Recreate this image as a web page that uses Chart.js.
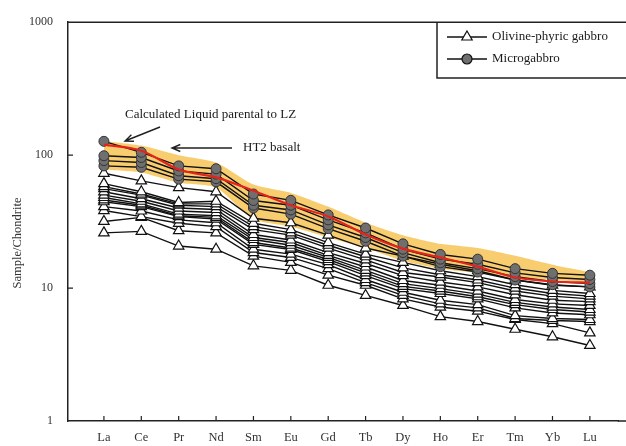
<!DOCTYPE html>
<html>
<head>
<meta charset="utf-8">
<script src="https://cdn.jsdelivr.net/npm/chart.js@4/dist/chart.umd.min.js"></script>
<style>
  html, body { margin: 0; padding: 0; background: #fff; }
  #wrap { width: 626px; height: 446px; }
</style>
</head>
<body>
<div id="wrap"><canvas id="reeChart" width="626" height="446"></canvas></div>
<script>
// REE elements, x axis
const elements = ['La', 'Ce', 'Pr', 'Nd', 'Sm', 'Eu', 'Gd', 'Tb', 'Dy', 'Ho', 'Er', 'Tm', 'Yb', 'Lu'];
const yTicks = [1, 10, 100, 1000];

// HT2 basalt (red line)
const ht2Basalt = [120, 108, 78, 68, 54, 42, 34.6, 25.3, 19.8, 17, 14.5, 12, 11.2, 11.0];

// calculated liquid parental to LZ (yellow band)
const liquidUpper = [128, 118, 100, 88, 60, 52, 41, 31, 25, 21.5, 20, 17.5, 15, 13.2];
const liquidLower = [78, 74, 62, 57, 33, 29, 24, 20, 16, 14, 13, 12, 11.5, 11];

// Microgabbro samples
const micro1 = [127, 105, 83, 79, 51, 45.7, 35.5, 28.3, 21.5, 17.9, 16.5, 14, 12.9, 12.5];
const micro2 = [99, 96, 76, 72, 45.6, 42, 32.6, 26, 19.6, 16.5, 15.1, 13, 12, 11.6];
const micro3 = [91, 88, 70, 66.5, 42, 38.7, 29.9, 24, 18.5, 15.5, 14, 12.2, 11.2, 10.8];
const micro4 = [83, 81, 66, 63, 40, 36, 28, 22.5, 17.4, 14.5, 13.2, 11.5, 10.6, 10.2];
const microgabbro = [micro1, micro2, micro3, micro4];

// Olivine-phyric gabbro samples
const olg1 = [73, 64, 57, 53, 33.5, 31, 25, 20, 17.4, 15.1, 13.5, 11.5, 10.5, 10.2];
const olg2 = [61, 53, 44, 45, 30.7, 27.5, 22, 18, 15.6, 13.5, 12.2, 10.6, 9.6, 9.1];
const olg3 = [58, 51, 43, 43, 29, 26, 21, 17.2, 14.2, 12.6, 11.5, 10, 9.1, 8.7];
const olg4 = [56, 50, 42, 41, 27.5, 25, 20, 16.3, 13.1, 12.1, 11, 9.5, 8.7, 8.3];
const olg5 = [53, 47, 40, 39, 25.3, 23, 18.5, 15.3, 12.4, 11.1, 10.2, 8.9, 8.1, 7.9];
const olg6 = [50, 45, 38, 37, 24, 22, 17.6, 14.4, 11.4, 10.5, 9.5, 8.2, 7.6, 7.4];
const olg7 = [48, 43, 36, 35, 23.2, 21, 17, 13.6, 10.8, 9.9, 9, 7.8, 7.2, 6.9];
const olg8 = [46, 42, 35, 34, 22, 20, 16.4, 13, 10.3, 9.5, 8.6, 7.5, 6.9, 6.6];
const olg9 = [44.6, 41, 34.5, 33, 21.3, 19.5, 15.8, 12.4, 9.9, 9.1, 8.3, 7.1, 6.5, 6.3];
const olg10 = [41, 38, 32.6, 31, 19.6, 18, 15, 11.6, 9.3, 8.1, 7.5, 6.2, 5.9, 5.8];
const olg11 = [38.3, 34.5, 30.7, 29, 18.5, 17, 14, 11, 8.8, 7.6, 7.1, 5.9, 5.7, 5.6];
const olg12 = [31.7, 34, 27, 26, 17.4, 15.6, 12.5, 10.5, 8.3, 7.2, 6.7, 5.8, 5.4, 4.6];
const olg13 = [26, 26.7, 20.7, 19.6, 14.7, 13.6, 10.5, 8.8, 7.4, 6.1, 5.6, 4.9, 4.3, 3.7];
const olivineGabbro = [olg1, olg2, olg3, olg4, olg5, olg6, olg7, olg8, olg9, olg10, olg11, olg12, olg13];

const SERIF = "'Liberation Serif', 'DejaVu Serif', serif";
const toPoints = vals => vals.map((v, i) => ({ x: i + 1, y: v }));

const datasets = [];
// 0,1: band
datasets.push({
  data: toPoints(liquidUpper), borderWidth: 0, pointRadius: 0, tension: 0.2,
  backgroundColor: 'rgba(247,200,95,0.9)', fill: 1, order: 4
});
datasets.push({
  data: toPoints(liquidLower), borderWidth: 0, pointRadius: 0, tension: 0.2,
  backgroundColor: 'rgba(247,200,95,0.9)', fill: false, order: 4
});
olivineGabbro.forEach(vals => datasets.push({
  data: toPoints(vals), borderColor: '#111', borderWidth: 1.4,
  pointStyle: 'triangle', pointRadius: 6, pointBorderWidth: 1.2,
  pointBackgroundColor: '#fff', pointBorderColor: '#111', fill: false, order: 3
}));
microgabbro.forEach(vals => datasets.push({
  data: toPoints(vals), borderColor: '#111', borderWidth: 1.4,
  pointStyle: 'circle', pointRadius: 5, pointBorderWidth: 1,
  pointBackgroundColor: '#6f6f6f', pointBorderColor: '#333', fill: false, order: 2
}));
datasets.push({
  data: toPoints(ht2Basalt), borderColor: '#e5231b', borderWidth: 2.2,
  pointRadius: 0, tension: 0.3, fill: false, order: 1
});

function arrow(ctx, x1, y1, x2, y2) {
  const a = Math.atan2(y2 - y1, x2 - x1);
  ctx.beginPath();
  ctx.moveTo(x1, y1);
  ctx.lineTo(x2, y2);
  ctx.moveTo(x2 - 9 * Math.cos(a - 0.4), y2 - 9 * Math.sin(a - 0.4));
  ctx.lineTo(x2, y2);
  ctx.lineTo(x2 - 9 * Math.cos(a + 0.4), y2 - 9 * Math.sin(a + 0.4));
  ctx.stroke();
}

const decorations = {
  id: 'decorations',
  afterDraw(chart) {
    const ctx = chart.ctx;
    const area = chart.chartArea;
    const xs = chart.scales.x, ys = chart.scales.y;
    ctx.save();
    ctx.strokeStyle = '#222';
    ctx.lineWidth = 1.5;
    // top frame, and bottom axis carried to the edge
    ctx.beginPath();
    ctx.moveTo(area.left, area.top);
    ctx.lineTo(chart.width, area.top);
    ctx.moveTo(area.right - 1, area.bottom);
    ctx.lineTo(chart.width, area.bottom);
    ctx.stroke();
    // inside ticks
    ctx.lineWidth = 1.2;
    ctx.beginPath();
    elements.forEach((e, i) => {
      const px = xs.getPixelForValue(i + 1);
      ctx.moveTo(px, area.bottom);
      ctx.lineTo(px, area.bottom - 5);
    });
    [10, 100].forEach(v => {
      const py = ys.getPixelForValue(v);
      ctx.moveTo(area.left, py);
      ctx.lineTo(area.left + 5, py);
    });
    ctx.stroke();

    // y title
    ctx.fillStyle = '#333';
    ctx.font = '12.5px ' + SERIF;
    ctx.textAlign = 'center';
    ctx.textBaseline = 'middle';
    ctx.translate(18, 243);
    ctx.rotate(-Math.PI / 2);
    ctx.fillText('Sample/Chondrite', 0, 0);
    ctx.setTransform(1, 0, 0, 1, 0, 0);

    // annotations
    ctx.fillStyle = '#1a1a1a';
    ctx.font = '13px ' + SERIF;
    ctx.textAlign = 'left';
    ctx.fillText('Calculated Liquid parental to LZ', 125, 115);
    ctx.fillText('HT2 basalt', 243, 148);
    ctx.strokeStyle = '#222';
    ctx.lineWidth = 1.4;
    arrow(ctx, 160, 127, 125, 141);
    arrow(ctx, 232, 148, 172, 148);

    // legend box
    ctx.lineWidth = 1.5;
    ctx.strokeStyle = '#222';
    ctx.beginPath();
    ctx.moveTo(437, area.top);
    ctx.lineTo(437, 78);
    ctx.lineTo(chart.width, 78);
    ctx.stroke();
    const rows = [
      { label: 'Olivine-phyric gabbro', y: 37, tri: true },
      { label: 'Microgabbro', y: 59, tri: false }
    ];
    rows.forEach(r => {
      ctx.strokeStyle = '#111';
      ctx.lineWidth = 1.4;
      ctx.beginPath();
      ctx.moveTo(447, r.y);
      ctx.lineTo(487, r.y);
      ctx.stroke();
      ctx.beginPath();
      if (r.tri) {
        const rad = 6;
        ctx.moveTo(467, r.y - rad);
        ctx.lineTo(467 + rad * Math.sin(2 * Math.PI / 3), r.y + rad / 2);
        ctx.lineTo(467 - rad * Math.sin(2 * Math.PI / 3), r.y + rad / 2);
        ctx.closePath();
        ctx.fillStyle = '#fff';
      } else {
        ctx.arc(467, r.y, 5, 0, Math.PI * 2);
        ctx.fillStyle = '#6f6f6f';
      }
      ctx.fill();
      ctx.lineWidth = 1.2;
      ctx.stroke();
      ctx.fillStyle = '#1a1a1a';
      ctx.font = '13px ' + SERIF;
      ctx.textAlign = 'left';
      ctx.textBaseline = 'middle';
      ctx.fillText(r.label, 492, r.y);
    });
    ctx.restore();
  }
};

new Chart(document.getElementById('reeChart').getContext('2d'), {
  type: 'line',
  data: { datasets: datasets },
  options: {
    responsive: false,
    animation: false,
    devicePixelRatio: 1,
    layout: { padding: { top: 16, right: 0, left: 0, bottom: 0 } },
    plugins: { legend: { display: false }, tooltip: { enabled: false } },
    scales: {
      x: {
        type: 'linear',
        min: 0.039,
        max: 14.774,
        afterFit: s => { s.height = 25; },
        afterBuildTicks: s => { s.ticks = elements.map((e, i) => ({ value: i + 1 })); },
        grid: { display: false, drawTicks: false },
        border: { display: true, color: '#222', width: 1.5 },
        ticks: {
          padding: 9,
          color: '#333',
          font: { family: SERIF, size: 12.5 },
          callback: v => elements[v - 1] || ''
        }
      },
      y: {
        type: 'logarithmic',
        min: 1,
        max: 1000,
        afterFit: s => { s.width = 68; },
        afterBuildTicks: s => { s.ticks = yTicks.map(v => ({ value: v })); },
        grid: { display: false, drawTicks: false },
        border: { display: true, color: '#222', width: 1.5 },
        ticks: {
          padding: 15,
          color: '#333',
          font: { family: SERIF, size: 12 },
          callback: v => String(v)
        }
      }
    }
  },
  plugins: [decorations]
});
</script>
</body>
</html>
